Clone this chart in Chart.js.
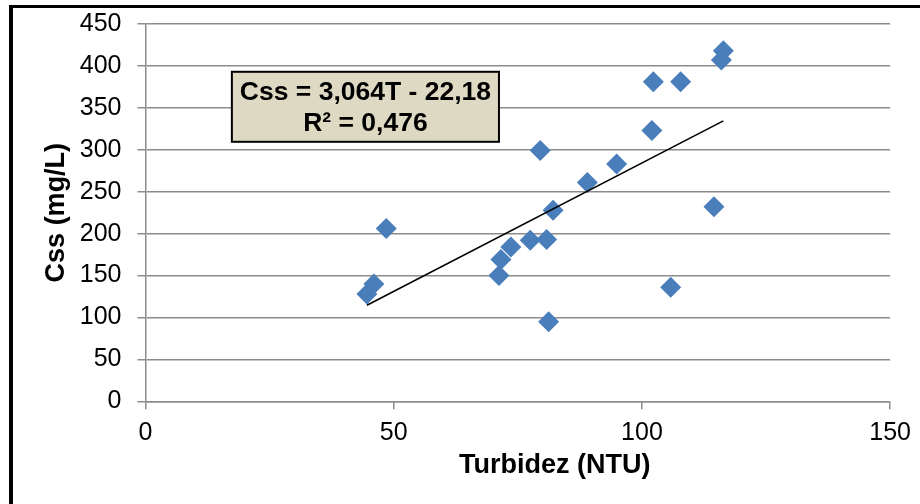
<!DOCTYPE html>
<html>
<head>
<meta charset="utf-8">
<script src="https://cdn.jsdelivr.net/npm/chart.js@4.4.0/dist/chart.umd.min.js"></script>
<style>
  html, body { margin: 0; padding: 0; background: #fff; }
  #wrap { position: relative; width: 920px; height: 504px; overflow: hidden; }
  #frame {
    position: absolute; left: 9px; top: 5px; width: 1000px; height: 600px;
    border-top: 3px solid #000; border-left: 4px solid #000;
    pointer-events: none;
  }
</style>
</head>
<body>
<div id="wrap">
  <canvas id="chart" width="920" height="504"></canvas>
  <div id="frame"></div>
</div>
<script>
// values
const turbidity = [44.6, 46.0, 48.5, 71.2, 71.6, 73.6, 77.5, 79.5, 80.8, 81.2, 82.1, 89.0, 94.9, 102.0, 102.3, 105.8, 107.8, 114.5, 116.0, 116.4];
const cssValues = [128, 140, 206, 150, 169, 184, 192, 299, 193, 95, 228, 261, 283, 323, 381, 136, 381, 232, 407, 418];

// linear trend shown in the box
const slope = 3.064;
const intercept = -22.18;
const equationLines = ['Css = 3,064T - 22,18', 'R² = 0,476'];

const xTicks = [0, 50, 100, 150];
const yTicks = [0, 50, 100, 150, 200, 250, 300, 350, 400, 450];
const xTitle = 'Turbidez (NTU)';

const trendX = [Math.min(...turbidity), Math.max(...turbidity)];

const fontFamily = '"Liberation Sans", Arial, sans-serif';
const gridColor = '#8c8c8c';

// equation box and x axis title (Excel puts it right of centre)
const extras = {
  id: 'extras',
  afterDatasetsDraw(chart) {
    const { ctx, chartArea, scales: { x, y } } = chart;
    const left = x.getPixelForValue(17.4);
    const right = x.getPixelForValue(71.2);
    const top = y.getPixelForValue(393);
    const bottom = y.getPixelForValue(309.5);
    ctx.save();
    ctx.fillStyle = '#ddd9c3';
    ctx.strokeStyle = '#000';
    ctx.lineWidth = 2;
    ctx.fillRect(left, top, right - left, bottom - top);
    ctx.strokeRect(left, top, right - left, bottom - top);
    ctx.fillStyle = '#000';
    ctx.font = 'bold 26.5px ' + fontFamily;
    ctx.textAlign = 'center';
    ctx.textBaseline = 'middle';
    const cx = (left + right) / 2;
    const cy = (top + bottom) / 2 + 1;
    ctx.fillText(equationLines[0], cx, cy - 15.5);
    ctx.fillText(equationLines[1], cx, cy + 15.5);

    ctx.font = 'bold 27px ' + fontFamily;
    ctx.fillText(xTitle, (chartArea.left + chartArea.right) / 2 + 37, chartArea.bottom + 64);
    ctx.restore();
  }
};

const ctx = document.getElementById('chart').getContext('2d');

new Chart(ctx, {
  type: 'scatter',
  data: {
    datasets: [
      {
        label: 'Css',
        data: turbidity.map((t, i) => ({ x: t, y: cssValues[i] })),
        pointStyle: 'rectRot',
        pointRadius: 10.5,
        pointBackgroundColor: '#4a7ebb',
        pointBorderWidth: 0,
        order: 1,
      },
      {
        type: 'line',
        label: 'Trend',
        data: trendX.map(t => ({ x: t, y: slope * t + intercept })),
        borderColor: '#000',
        borderWidth: 1.6,
        pointRadius: 0,
        fill: false,
        order: 0,
      },
    ],
  },
  options: {
    responsive: false,
    animation: false,
    layout: {
      padding: { top: 24, right: 28, left: 0, bottom: 0 },
    },
    plugins: {
      legend: { display: false },
      tooltip: { enabled: false },
    },
    scales: {
      x: {
        type: 'linear',
        min: 0,
        max: 150,
        afterBuildTicks: (scale) => { scale.ticks = xTicks.map(v => ({ value: v })); },
        afterFit: (scale) => {
          scale.height = 102.7;
          scale.paddingTop = 0;
          scale.paddingBottom = 0;
        },
        grid: {
          drawOnChartArea: false,
          color: gridColor,
          lineWidth: 1.5,
          tickLength: 8,
        },
        border: { color: gridColor, width: 1.5 },
        ticks: {
          color: '#000',
          padding: 9,
          font: { family: fontFamily, size: 25 },
        },
      },
      y: {
        min: 0,
        max: 450,
        afterBuildTicks: (scale) => { scale.ticks = yTicks.map(v => ({ value: v })); },
        afterFit: (scale) => {
          scale.width = 145.5;
          scale.paddingTop = 0;
          scale.paddingBottom = 0;
        },
        grid: {
          color: gridColor,
          lineWidth: 1.5,
          tickLength: 8,
        },
        border: { color: gridColor, width: 1.5 },
        ticks: {
          color: '#000',
          padding: 16,
          font: { family: fontFamily, size: 25 },
        },
        title: {
          display: true,
          text: 'Css (mg/L)',
          color: '#000',
          padding: { top: 40, bottom: 0 },
          font: { family: fontFamily, size: 27, weight: 'bold' },
        },
      },
    },
  },
  plugins: [extras],
});
</script>
</body>
</html>
